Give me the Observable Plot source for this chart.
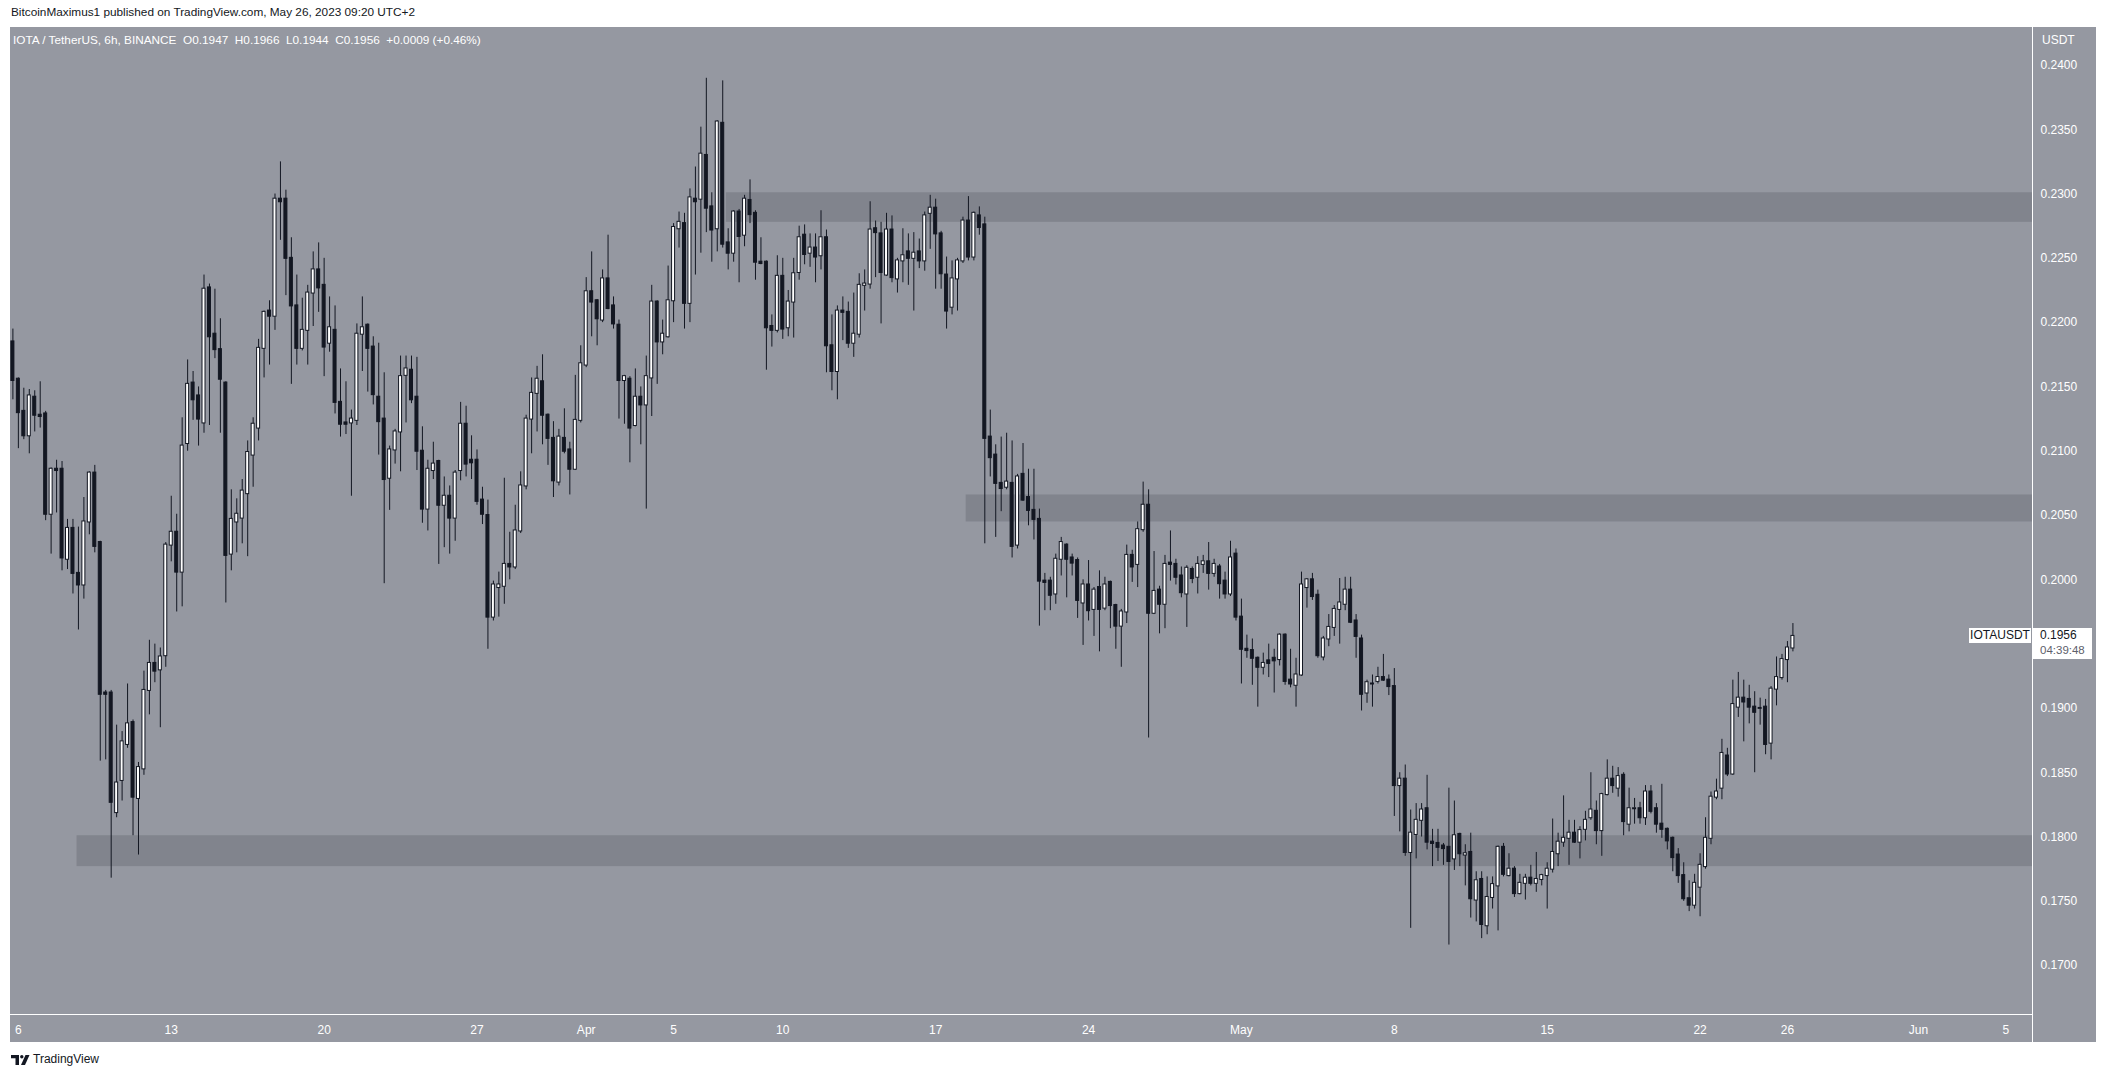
<!DOCTYPE html>
<html><head><meta charset="utf-8">
<script src="https://cdn.jsdelivr.net/npm/d3@7"></script>
<script src="https://cdn.jsdelivr.net/npm/@observablehq/plot@0.6"></script>
<style>
html,body{margin:0;padding:0;background:#fff;}
#root{position:relative;width:2106px;height:1079px;overflow:hidden;font-family:"Liberation Sans",Arial,sans-serif;}
.abs{position:absolute;white-space:nowrap;}
#root svg{position:absolute;left:0;top:0;}
</style></head><body><div id="root"></div>
<script>
// ---------------- DATA ----------------
const symbolTitle = "IOTA / TetherUS, 6h, BINANCE";
const publishedText = "BitcoinMaximus1 published on TradingView.com, May 26, 2023 09:20 UTC+2";
const tickerName = "IOTAUSDT";
const countdown = "04:39:48";
const currency = "USDT";
const firstBar = "2023-03-05T18:00:00Z"; // 6h bars
const barHours = 6;

const opens = [
0.2185,0.2156,0.2131,0.2112,0.2142,0.2128,0.2129,0.2051,0.2086,0.2086,
0.2016,0.2040,0.2005,0.1996,0.2045,0.2083,0.2029,0.1912,0.1912,0.1819,
0.1844,0.1872,0.1889,0.1830,0.1853,0.1914,0.1935,0.1930,0.1941,0.2027,
0.2037,0.2006,0.2106,0.2153,0.2143,0.2122,0.2227,0.2191,0.2179,0.2153,
0.2020,0.2045,0.2048,0.2067,0.2097,0.2118,0.2180,0.2209,0.2205,0.2296,
0.2296,0.2250,0.2213,0.2180,0.2194,0.2223,0.2241,0.2229,0.2184,0.2194,
0.2138,0.2122,0.2122,0.2124,0.2191,0.2198,0.2181,0.2142,0.2125,0.2079,
0.2101,0.2115,0.2159,0.2163,0.2142,0.2100,0.2055,0.2085,0.2092,0.2058,
0.2065,0.2048,0.2085,0.2121,0.2093,0.2093,0.2062,0.2050,0.1971,0.1994,
0.1995,0.2012,0.2010,0.2038,0.2073,0.2125,0.2145,0.2154,0.2128,0.2110,
0.2076,0.2110,0.2101,0.2086,0.2124,0.2167,0.2224,0.2217,0.2202,0.2234,
0.2213,0.2198,0.2155,0.2156,0.2120,0.2142,0.2136,0.2157,0.2216,0.2185,
0.2189,0.2217,0.2273,0.2277,0.2215,0.2296,0.2296,0.2330,0.2290,0.2273,
0.2355,0.2262,0.2254,0.2286,0.2268,0.2295,0.2285,0.2247,0.2247,0.2197,
0.2194,0.2236,0.2196,0.2216,0.2239,0.2268,0.2254,0.2258,0.2252,0.2266,
0.2182,0.2162,0.2209,0.2208,0.2184,0.2191,0.2229,0.2230,0.2273,0.2269,
0.2237,0.2272,0.2234,0.2248,0.2255,0.2250,0.2255,0.2248,0.2285,0.2289,
0.2269,0.2237,0.2212,0.2234,0.2248,0.2279,0.2251,0.2283,0.2276,0.2111,
0.2097,0.2075,0.2072,0.2075,0.2027,0.2082,0.2064,0.2054,0.2047,0.1999,
0.1999,0.1989,0.2016,0.2027,0.2017,0.2015,0.1982,0.1996,0.1977,0.1994,
0.1978,0.1998,0.1980,0.1964,0.1975,0.2019,0.2012,0.2039,0.2058,0.1974,
0.1992,0.1981,0.2013,0.2012,0.2003,0.1989,0.2008,0.2002,0.2012,0.2014,
0.2005,0.2010,0.1999,0.1989,0.2020,0.1971,0.1946,0.1945,0.1939,0.1932,
0.1937,0.1939,0.1938,0.1957,0.1922,0.1918,0.1926,0.1994,0.2000,0.1988,
0.1940,0.1954,0.1963,0.1977,0.1981,0.1992,0.1968,0.1954,0.1912,0.1919,
0.1921,0.1924,0.1922,0.1917,0.1840,0.1845,0.1788,0.1802,0.1813,0.1822,
0.1796,0.1795,0.1793,0.1792,0.1783,0.1802,0.1786,0.1788,0.1751,0.1767,
0.1731,0.1753,0.1762,0.1792,0.1770,0.1775,0.1756,0.1764,0.1768,0.1764,
0.1767,0.1770,0.1775,0.1787,0.1796,0.1799,0.1803,0.1796,0.1806,0.1815,
0.1820,0.1805,0.1833,0.1845,0.1838,0.1848,0.1810,0.1822,0.1822,0.1815,
0.1835,0.1822,0.1810,0.1806,0.1799,0.1786,0.1770,0.1752,0.1747,0.1761,
0.1777,0.1799,0.1831,0.1838,0.1863,0.1849,0.1901,0.1908,0.1907,0.1901,
0.1900,0.1901,0.1873,0.1915,0.1924,0.1938,0.1947];

const highs = [
0.2195,0.2157,0.2149,0.2148,0.2147,0.2154,0.2131,0.2087,0.2093,0.2092,
0.2047,0.2047,0.2041,0.2064,0.2084,0.2089,0.2030,0.1914,0.1914,0.1887,
0.1882,0.1919,0.1891,0.1858,0.1929,0.1953,0.1950,0.1947,0.2029,0.2065,
0.2051,0.2126,0.2171,0.2162,0.2150,0.2237,0.2230,0.2226,0.2203,0.2154,
0.2070,0.2063,0.2078,0.2108,0.2126,0.2187,0.2209,0.2217,0.2300,0.2325,
0.2303,0.2266,0.2237,0.2219,0.2229,0.2255,0.2262,0.2250,0.2220,0.2213,
0.2164,0.2154,0.2132,0.2199,0.2220,0.2199,0.2189,0.2184,0.2161,0.2104,
0.2117,0.2174,0.2174,0.2174,0.2173,0.2119,0.2093,0.2107,0.2093,0.2080,
0.2073,0.2085,0.2138,0.2135,0.2112,0.2101,0.2072,0.2062,0.1999,0.2006,
0.2079,0.2037,0.2058,0.2084,0.2128,0.2157,0.2166,0.2175,0.2129,0.2123,
0.2117,0.2133,0.2107,0.2159,0.2182,0.2235,0.2255,0.2218,0.2241,0.2268,
0.2220,0.2202,0.2159,0.2158,0.2164,0.2150,0.2174,0.2229,0.2217,0.2202,
0.2244,0.2277,0.2286,0.2285,0.2304,0.2321,0.2352,0.2390,0.2301,0.2357,
0.2388,0.2273,0.2287,0.2288,0.2299,0.2311,0.2287,0.2266,0.2248,0.2206,
0.2252,0.2250,0.2225,0.2250,0.2275,0.2276,0.2269,0.2269,0.2287,0.2272,
0.2206,0.2213,0.2220,0.2216,0.2223,0.2238,0.2241,0.2294,0.2279,0.2278,
0.2285,0.2283,0.2250,0.2273,0.2269,0.2270,0.2265,0.2286,0.2299,0.2296,
0.2271,0.2251,0.2248,0.2250,0.2282,0.2298,0.2286,0.2290,0.2282,0.2132,
0.2105,0.2111,0.2114,0.2108,0.2082,0.2106,0.2086,0.2086,0.2055,0.2005,
0.2002,0.2020,0.2033,0.2028,0.2020,0.2017,0.2000,0.2015,0.1994,0.2007,
0.2002,0.1999,0.1981,0.1977,0.2027,0.2023,0.2045,0.2076,0.2070,0.2022,
0.1995,0.2019,0.2038,0.2016,0.2010,0.2011,0.2010,0.2018,0.2019,0.2029,
0.2016,0.2012,0.2006,0.2030,0.2024,0.1985,0.1957,0.1954,0.1940,0.1943,
0.1950,0.1946,0.1958,0.1958,0.1946,0.1939,0.2006,0.2001,0.2005,0.1992,
0.1956,0.1973,0.1980,0.2001,0.2002,0.2002,0.1973,0.1957,0.1922,0.1926,
0.1932,0.1942,0.1926,0.1931,0.1850,0.1856,0.1821,0.1826,0.1826,0.1848,
0.1806,0.1806,0.1795,0.1838,0.1828,0.1803,0.1794,0.1803,0.1773,0.1773,
0.1769,0.1769,0.1793,0.1795,0.1787,0.1777,0.1771,0.1771,0.1778,0.1788,
0.1771,0.1780,0.1814,0.1803,0.1832,0.1813,0.1813,0.1808,0.1820,0.1850,
0.1828,0.1834,0.1860,0.1855,0.1854,0.1850,0.1838,0.1830,0.1827,0.1840,
0.1840,0.1826,0.1841,0.1807,0.1800,0.1791,0.1780,0.1766,0.1771,0.1787,
0.1815,0.1835,0.1845,0.1876,0.1869,0.1922,0.1928,0.1922,0.1918,0.1913,
0.1908,0.1907,0.1917,0.1940,0.1942,0.1952,0.1966];

const lows = [
0.2140,0.2102,0.2109,0.2098,0.2115,0.2118,0.2046,0.2020,0.2052,0.2007,
0.2008,0.1989,0.1961,0.1985,0.2035,0.2021,0.1859,0.1860,0.1768,0.1815,
0.1828,0.1869,0.1801,0.1786,0.1848,0.1895,0.1920,0.1885,0.1932,0.2014,
0.1975,0.1979,0.2100,0.2124,0.2104,0.2114,0.2120,0.2172,0.2114,0.1982,
0.2007,0.2021,0.2028,0.2018,0.2072,0.2108,0.2157,0.2167,0.2194,0.2264,
0.2221,0.2152,0.2167,0.2178,0.2167,0.2197,0.2208,0.2158,0.2177,0.2129,
0.2111,0.2113,0.2065,0.2120,0.2162,0.2146,0.2136,0.2097,0.1997,0.2054,
0.2090,0.2084,0.2122,0.2137,0.2085,0.2044,0.2038,0.2078,0.2012,0.2025,
0.2020,0.2030,0.2077,0.2080,0.2078,0.2058,0.2043,0.1946,0.1968,0.1971,
0.1981,0.2000,0.2008,0.2036,0.2070,0.2098,0.2115,0.2105,0.2089,0.2064,
0.2073,0.2098,0.2066,0.2085,0.2122,0.2165,0.2189,0.2182,0.2200,0.2210,
0.2195,0.2125,0.2121,0.2091,0.2119,0.2105,0.2055,0.2127,0.2152,0.2175,
0.2188,0.2200,0.2258,0.2195,0.2200,0.2237,0.2254,0.2270,0.2247,0.2255,
0.2258,0.2241,0.2247,0.2231,0.2259,0.2277,0.2233,0.2245,0.2163,0.2181,
0.2192,0.2187,0.2189,0.2188,0.2233,0.2245,0.2243,0.2231,0.2241,0.2161,
0.2147,0.2140,0.2186,0.2180,0.2173,0.2188,0.2209,0.2226,0.2235,0.2199,
0.2236,0.2231,0.2223,0.2231,0.2229,0.2209,0.2242,0.2240,0.2257,0.2226,
0.2226,0.2195,0.2206,0.2209,0.2246,0.2248,0.2248,0.2268,0.2028,0.2080,
0.2033,0.2053,0.2070,0.2017,0.2024,0.2061,0.2042,0.2031,0.1964,0.1976,
0.1976,0.1981,0.2003,0.1986,0.2003,0.1970,0.1949,0.1968,0.1956,0.1944,
0.1976,0.1962,0.1946,0.1932,0.1966,0.1998,0.1994,0.2037,0.1877,0.1973,
0.1958,0.1962,0.1999,0.1996,0.1986,0.1963,0.1997,0.1989,0.2005,0.1992,
0.2002,0.1985,0.1985,0.1987,0.1968,0.1919,0.1939,0.1918,0.1901,0.1926,
0.1924,0.1912,0.1933,0.1918,0.1916,0.1901,0.1925,0.1978,0.1984,0.1939,
0.1937,0.1948,0.1956,0.1950,0.1976,0.1966,0.1939,0.1898,0.1904,0.1901,
0.1919,0.1921,0.1910,0.1816,0.1804,0.1785,0.1729,0.1783,0.1800,0.1790,
0.1777,0.1781,0.1778,0.1716,0.1774,0.1777,0.1762,0.1737,0.1734,0.1721,
0.1724,0.1744,0.1727,0.1769,0.1769,0.1753,0.1755,0.1751,0.1762,0.1757,
0.1762,0.1744,0.1772,0.1777,0.1792,0.1778,0.1795,0.1783,0.1797,0.1813,
0.1794,0.1785,0.1832,0.1834,0.1831,0.1801,0.1804,0.1810,0.1810,0.1809,
0.1818,0.1803,0.1799,0.1790,0.1773,0.1764,0.1750,0.1742,0.1744,0.1738,
0.1775,0.1794,0.1829,0.1829,0.1847,0.1848,0.1893,0.1874,0.1888,0.1850,
0.1887,0.1864,0.1860,0.1902,0.1922,0.1920,0.1944];

const closes = [
0.2155,0.2130,0.2112,0.2143,0.2128,0.2127,0.2051,0.2086,0.2085,0.2017,
0.2040,0.2005,0.1996,0.2045,0.2083,0.2026,0.1911,0.1911,0.1827,0.1842,
0.1874,0.1888,0.1831,0.1854,0.1914,0.1935,0.1929,0.1940,0.2027,0.2037,
0.2006,0.2104,0.2152,0.2140,0.2125,0.2226,0.2189,0.2179,0.2156,0.2019,
0.2047,0.2051,0.2069,0.2099,0.2121,0.2180,0.2208,0.2205,0.2296,0.2294,
0.2250,0.2213,0.2180,0.2194,0.2223,0.2241,0.2227,0.2181,0.2196,0.2138,
0.2121,0.2121,0.2125,0.2191,0.2196,0.2180,0.2144,0.2123,0.2078,0.2101,
0.2115,0.2158,0.2164,0.2140,0.2100,0.2055,0.2086,0.2090,0.2058,0.2065,
0.2048,0.2083,0.2121,0.2090,0.2091,0.2061,0.2051,0.1971,0.1996,0.1996,
0.2012,0.2010,0.2038,0.2073,0.2125,0.2145,0.2156,0.2128,0.2110,0.2077,
0.2111,0.2100,0.2086,0.2124,0.2168,0.2224,0.2216,0.2203,0.2234,0.2211,
0.2199,0.2155,0.2158,0.2118,0.2142,0.2136,0.2158,0.2216,0.2185,0.2191,
0.2217,0.2274,0.2278,0.2215,0.2297,0.2294,0.2331,0.2289,0.2272,0.2356,
0.2261,0.2254,0.2286,0.2267,0.2296,0.2284,0.2247,0.2246,0.2196,0.2194,
0.2236,0.2195,0.2216,0.2238,0.2266,0.2253,0.2258,0.2251,0.2266,0.2182,
0.2162,0.2209,0.2208,0.2184,0.2191,0.2229,0.2230,0.2272,0.2270,0.2239,
0.2272,0.2235,0.2248,0.2252,0.2250,0.2254,0.2248,0.2283,0.2289,0.2269,
0.2238,0.2209,0.2234,0.2248,0.2279,0.2251,0.2285,0.2274,0.2110,0.2095,
0.2075,0.2071,0.2076,0.2026,0.2080,0.2062,0.2054,0.2047,0.1999,0.1998,
0.1988,0.2016,0.2029,0.2016,0.2013,0.1984,0.1996,0.1976,0.1992,0.1977,
0.1996,0.1980,0.1964,0.1975,0.2019,0.2010,0.2039,0.2058,0.1974,0.1991,
0.1981,0.2012,0.2012,0.2002,0.1990,0.2009,0.2001,0.2012,0.2014,0.2005,
0.2012,0.1997,0.1989,0.2017,0.1971,0.1946,0.1945,0.1939,0.1932,0.1935,
0.1935,0.1937,0.1957,0.1921,0.1919,0.1926,0.1996,0.2000,0.1987,0.1941,
0.1954,0.1963,0.1977,0.1982,0.1992,0.1967,0.1956,0.1911,0.1920,0.1919,
0.1924,0.1922,0.1917,0.1840,0.1845,0.1788,0.1803,0.1813,0.1821,0.1796,
0.1795,0.1792,0.1791,0.1781,0.1801,0.1787,0.1787,0.1752,0.1766,0.1732,
0.1753,0.1763,0.1792,0.1771,0.1775,0.1756,0.1764,0.1768,0.1764,0.1767,
0.1770,0.1775,0.1788,0.1796,0.1799,0.1803,0.1796,0.1805,0.1813,0.1821,
0.1805,0.1833,0.1845,0.1840,0.1847,0.1812,0.1822,0.1822,0.1815,0.1835,
0.1820,0.1810,0.1806,0.1797,0.1784,0.1770,0.1752,0.1747,0.1764,0.1778,
0.1799,0.1831,0.1835,0.1865,0.1849,0.1903,0.1908,0.1905,0.1901,0.1897,
0.1900,0.1872,0.1915,0.1924,0.1938,0.1947,0.1956];

// horizontal support / resistance zones
const zoneLow  = [0.1777, 0.2045, 0.2278];
const zoneHigh = [0.1801, 0.2066, 0.2301];
const zoneFrom = ["2023-03-08T16:30:00Z", "2023-04-18T09:30:00Z", "2023-04-07T10:00:00Z"];

// axis ticks (0.1950 is hidden behind the last-price label in the reference)
const yTicks = [0.170,0.175,0.180,0.185,0.190,0.200,0.205,0.210,0.215,0.220,0.225,0.230,0.235,0.240];
const xTickDates = ["2023-03-06","2023-03-13","2023-03-20","2023-03-27","2023-04-01","2023-04-05","2023-04-10","2023-04-17","2023-04-24","2023-05-01","2023-05-08","2023-05-15","2023-05-22","2023-05-26","2023-06-01","2023-06-05"];
const xTickLabels = ["6","13","20","27","Apr","5","10","17","24","May","8","15","22","26","Jun","5"];

// ---------------- CHART ----------------
const root = document.getElementById("root");
const DARK = "#131722", BG = "#9598a1", ZONE = "#81848d";
const FONT = "'Liberation Sans', Arial, sans-serif";
const BAR_MS = barHours * 3600e3;
const t0 = Date.parse(firstBar);
const n = opens.length;
if (highs.length !== n || lows.length !== n || closes.length !== n) {
  root.insertAdjacentHTML("beforeend", `<div class="abs" style="left:400px;top:400px;color:red;font-size:30px">LENGTH MISMATCH ${n} ${highs.length} ${lows.length} ${closes.length}</div>`);
}
const bars = opens.map((o, i) => ({
  date: new Date(t0 + i * BAR_MS), open: o, high: highs[i], low: lows[i], close: closes[i], up: closes[i] >= o
}));
const xDomain = [new Date(t0 - 0.44 * BAR_MS), new Date(t0 + 369.88 * BAR_MS)];
const yDomain = [0.16620, 0.24295];
const zones = zoneLow.map((lo, i) => ({x1: new Date(zoneFrom[i]), x2: xDomain[1], y1: lo, y2: zoneHigh[i]}));
const HALF = 0.275 * BAR_MS;
const tickDates = xTickDates.map(d => new Date(d + "T00:00:00Z"));
const labelMap = new Map(tickDates.map((d, i) => [+d, xTickLabels[i]]));

// gray frame and panels behind the svg
root.insertAdjacentHTML("beforeend", `<div class="abs" style="left:10px;top:27px;width:2086px;height:1015px;background:${BG}"></div>`);

const W = 2106, H = 1079;
const chart = Plot.plot({
  width: W, height: H,
  marginLeft: 10, marginRight: 74, marginTop: 27, marginBottom: 65,
  x: {type: "utc", domain: xDomain},
  y: {domain: yDomain},
  style: {background: "transparent", color: "#ffffff", fontFamily: FONT, fontSize: "12px", overflow: "visible"},
  marks: [
    Plot.rect(zones, {x1: "x1", x2: "x2", y1: "y1", y2: "y2", fill: ZONE}),
    Plot.ruleX(bars, {x: "date", y1: "low", y2: "high", stroke: DARK, strokeWidth: 1, clip: true}),
    Plot.rect(bars, {
      x1: d => new Date(+d.date - HALF), x2: d => new Date(+d.date + HALF),
      y1: "open", y2: "close",
      fill: d => d.up ? "#ffffff" : DARK, stroke: DARK, strokeWidth: 1,
      insetTop: -0.5, insetBottom: -0.5, clip: true
    }),
    Plot.axisY(yTicks, {anchor: "right", tickSize: 0, tickPadding: 8, tickFormat: d3.format(".4f"), fill: "#ffffff"}),
    Plot.axisX(tickDates, {anchor: "bottom", tickSize: 0, tickPadding: 11, tickFormat: d => labelMap.get(+d), fill: "#ffffff"})
  ]
});
root.appendChild(chart);

// separators
root.insertAdjacentHTML("beforeend", `<div class="abs" style="left:2032px;top:27px;width:1px;height:1015px;background:#fff"></div>`);
root.insertAdjacentHTML("beforeend", `<div class="abs" style="left:10px;top:1014px;width:2022px;height:1px;background:#fff"></div>`);

// texts
const last = bars[n - 1], prev = bars[n - 2];
const f4 = d3.format(".4f");
const chg = last.close - prev.close;
const pct = chg / prev.close * 100;
const chgText = `${chg >= 0 ? "+" : ""}${f4(chg)} (${pct >= 0 ? "+" : ""}${pct.toFixed(2)}%)`;

root.insertAdjacentHTML("beforeend",
  `<div class="abs" style="left:11px;top:5px;font-size:11.8px;color:#131722;font-family:${FONT}">${publishedText}</div>`);
root.insertAdjacentHTML("beforeend",
  `<div class="abs" style="left:13px;top:33px;font-size:11.8px;color:#ffffff;font-family:${FONT}">${symbolTitle}&nbsp;&nbsp;O${f4(last.open)}&nbsp;&nbsp;H${f4(last.high)}&nbsp;&nbsp;L${f4(last.low)}&nbsp;&nbsp;C${f4(last.close)}&nbsp;&nbsp;${chgText}</div>`);
root.insertAdjacentHTML("beforeend",
  `<div class="abs" style="left:2042px;top:33px;font-size:12px;color:#ffffff;font-family:${FONT}">${currency}</div>`);

// last price labels
const yLast = chart.scale("y").apply(last.close);
root.insertAdjacentHTML("beforeend",
  `<div class="abs" style="left:1969px;top:${yLast - 8}px;width:62px;height:15px;background:#fff;color:#131722;font-size:12px;line-height:15px;text-align:center;font-family:${FONT}">${tickerName}</div>`);
root.insertAdjacentHTML("beforeend",
  `<div class="abs" style="left:2033px;top:${yLast - 8}px;width:59px;height:31px;background:#fff"></div>`);
root.insertAdjacentHTML("beforeend",
  `<div class="abs" style="left:2040px;top:${yLast - 7}px;font-size:12px;line-height:13px;color:#131722;font-family:${FONT}">${f4(last.close)}</div>`);
root.insertAdjacentHTML("beforeend",
  `<div class="abs" style="left:2040px;top:${yLast + 8}px;font-size:11.5px;line-height:13px;color:#5d606b;font-family:${FONT}">${countdown}</div>`);

// TradingView logo + text
root.insertAdjacentHTML("beforeend",
  `<svg class="abs" style="left:11px;top:1055px" width="20" height="11" viewBox="0 0 20 11"><path d="M0 0H8V10H4.5V3.2H0Z" fill="#131722"/><circle cx="10.8" cy="1.7" r="1.7" fill="#131722"/><path d="M14.5 0H18.5L14 10H10Z" fill="#131722"/></svg>`);
root.insertAdjacentHTML("beforeend",
  `<div class="abs" style="left:33px;top:1052px;font-size:12px;color:#131722;font-family:${FONT}">TradingView</div>`);
</script></body></html>
